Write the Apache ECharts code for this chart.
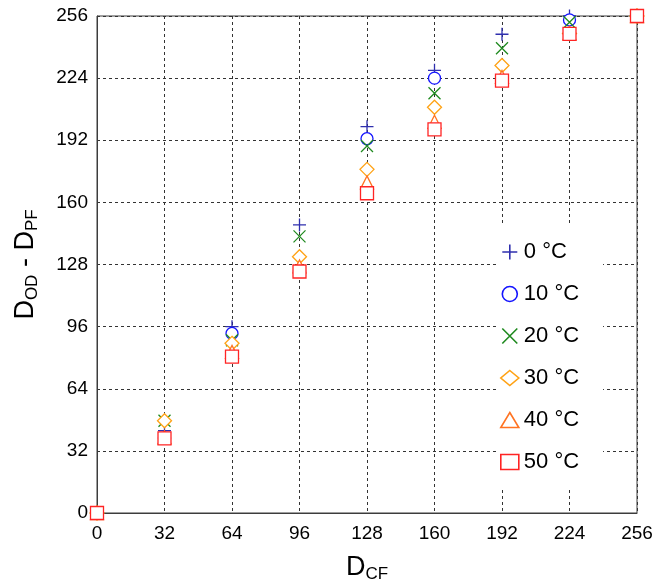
<!DOCTYPE html>
<html>
<head>
<meta charset="utf-8">
<script src="https://cdn.jsdelivr.net/npm/echarts@6/dist/echarts.min.js"></script>
<style>
  html, body { margin: 0; padding: 0; background: #fff; }
  #chart { width: 663px; height: 588px; }
</style>
</head>
<body>
<div id="chart"></div>
<script>
// Channel values D_CF and measured D_OD - D_PF at each temperature
const dcf = [0, 32, 64, 96, 128, 160, 192, 224, 256];
const t0  = [0, 42.4, 96, 148.4, 199, 228, 246.6, 256, 256];
const t10 = [0, 38.5, 92.5, 124.5, 192.8, 224, 223, 254, 256];
const t20 = [0, 47.5, 89, 142.5, 189, 216.2, 239.4, 252.8, 256];
const t30 = [0, 47.5, 87.4, 132, 177, 209, 230.5, 247, 256];
const t40 = [0, 39, 83, 127, 170.3, 201.5, 224.6, 247, 256];
const t50 = [0, 38.4, 80.5, 124.4, 164.7, 197.6, 222.7, 246.8, 256];
const seriesNames = ['0 °C', '10 °C', '20 °C', '30 °C', '40 °C', '50 °C'];
const axisTicks = [0, 32, 64, 96, 128, 160, 192, 224, 256];

const FONT = '"Liberation Sans", Arial, Helvetica, sans-serif';
const PLUS = 'path://M0,5L10,5M5,0L5,10';
const CROSS = 'path://M0,0L10,10M10,0L0,10';

const styles = [
  { symbol: PLUS,       size: 13, color: '#2f2fae' },
  { symbol: 'circle',   size: 12, color: '#1414ff' },
  { symbol: CROSS,      size: 12, color: '#1f8a1f' },
  { symbol: 'diamond',  size: 14, color: '#ffa214' },
  { symbol: 'triangle', size: 13, color: '#ff7322' },
  { symbol: 'rect',     size: 13, color: '#ff2424' }
];
const values = [t0, t10, t20, t30, t40, t50];

const series = values.map((vals, i) => ({
  name: seriesNames[i],
  type: 'scatter',
  symbol: styles[i].symbol,
  symbolSize: styles[i].size,
  clip: false,
  data: dcf.map((x, k) => [x, vals[k]]),
  itemStyle: { color: '#ffffff', borderColor: styles[i].color, borderWidth: 1.3, opacity: 1 },
  emphasis: { disabled: true },
  z: 2 + i
}));

const tickSet = new Set(axisTicks);
const axisCommon = {
  type: 'value',
  min: 0,
  max: 256,
  interval: 32,
  axisLine: { show: true, onZero: false, lineStyle: { color: '#3c3c3c', width: 1 } },
  axisTick: { show: false },
  splitLine: { show: true, lineStyle: { color: '#333333', type: [3, 3], width: 1 } },
  axisLabel: {
    color: '#000', fontFamily: FONT, fontSize: 19,
    formatter: v => (tickSet.has(v) ? String(v) : '')
  },
  nameTextStyle: {
    fontFamily: FONT, color: '#000',
    rich: {
      d: { fontFamily: FONT, fontSize: 27, color: '#000', lineHeight: 30 },
      s: { fontFamily: FONT, fontSize: 17, color: '#000', padding: [12, 0, 0, 0] }
    }
  }
};

const chart = echarts.init(document.getElementById('chart'), null, { renderer: 'canvas' });
chart.setOption({
  backgroundColor: '#ffffff',
  animation: false,
  grid: {
    left: 97, top: 16, right: 26, bottom: 75,
    show: true, borderColor: '#3c3c3c', borderWidth: 1, backgroundColor: 'transparent'
  },
  xAxis: Object.assign({}, axisCommon, {
    name: '{d|D}{s|CF}',
    nameLocation: 'middle',
    nameGap: 40,
    axisLabel: Object.assign({}, axisCommon.axisLabel, { margin: 11 })
  }),
  yAxis: Object.assign({}, axisCommon, {
    name: '{d|D}{s|OD}{d| - D}{s|PF}',
    nameLocation: 'middle',
    nameGap: 56,
    axisLabel: Object.assign({}, axisCommon.axisLabel, { margin: 9 })
  }),
  legend: {
    orient: 'vertical',
    left: 498,
    top: 226,
    padding: [15, 24, 14, 2],
    backgroundColor: '#ffffff',
    itemWidth: 18,
    itemHeight: 15,
    itemGap: 20,
    selectedMode: false,
    textStyle: { fontFamily: FONT, fontSize: 22, color: '#000' },
    data: seriesNames.map((n, i) => ({
      name: n,
      itemStyle: { color: '#ffffff', borderColor: styles[i].color, borderWidth: 1.6 }
    }))
  },
  series: series
});
</script>
</body>
</html>
